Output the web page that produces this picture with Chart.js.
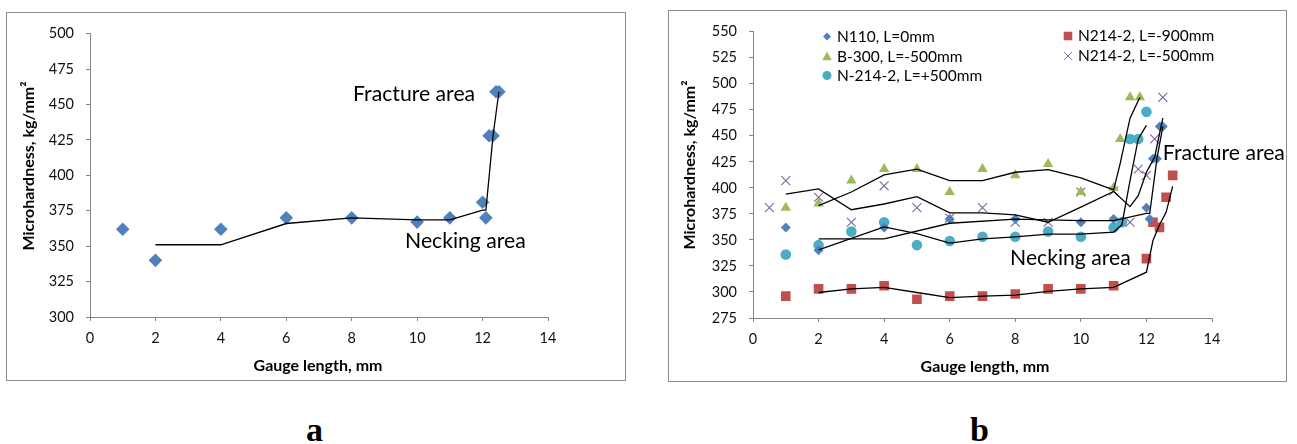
<!DOCTYPE html>
<html><head><meta charset="utf-8">
<script src="https://cdn.jsdelivr.net/npm/chart.js@4"></script>
<style>
html,body{margin:0;padding:0;background:#fff;width:1297px;height:444px;overflow:hidden;position:relative;}
.frame{position:absolute;border:1px solid #8c8c8c;box-sizing:border-box;}
.lab{position:absolute;font-family:"Liberation Serif","DejaVu Serif",serif;font-weight:bold;font-size:34px;line-height:1;color:#000;}
canvas{position:absolute;}
</style></head><body>
<div class="frame" style="left:6px;top:12px;width:620px;height:369px"></div>
<div class="frame" style="left:668px;top:10px;width:619px;height:372px"></div>
<canvas id="cA" width="618" height="367" style="left:7px;top:13px"></canvas>
<canvas id="cB" width="617" height="370" style="left:669px;top:11px"></canvas>
<div class="lab" style="left:306px;top:413px">a</div>
<div class="lab" style="left:970px;top:413px">b</div>
<script>
// ---------- DATA ----------
// Chart a : N110 only
const aX = [1, 2, 4, 6, 8, 10, 11, 12, 12.1, 12.2, 12.32, 12.41, 12.5];
const aY = [362, 340, 362, 370, 370, 367, 370, 381, 370, 428, 428, 459, 459];
const aTrendX = [2, 4, 6, 8, 10, 11, 12, 12.1, 12.2, 12.32, 12.41, 12.5];
const aTrendY = [351, 351, 366, 370, 368.5, 368.5, 375.5, 375.5, 399, 428, 443.5, 459];

// Chart b
const n110X = [1, 2, 4, 6, 8, 10, 11, 12, 12.1, 12.2, 12.32, 12.41, 12.5];
const n110Y = [362, 340, 362, 370, 370, 367, 370, 381, 370, 428, 428, 459, 459];
const n110TrendX = [2, 4, 6, 8, 10, 11, 12, 12.1, 12.2, 12.32, 12.41, 12.5];
const n110TrendY = [351, 351, 366, 370, 368.5, 368.5, 375.5, 375.5, 399, 428, 443.5, 459];

const n900X = [1, 2, 3, 4, 5, 6, 7, 8, 9, 10, 11, 12, 12.2, 12.4, 12.6, 12.8];
const n900Y = [296, 303, 303, 306, 293, 296, 296, 298, 303, 303, 306, 332, 367, 362, 391, 412];
const n900TrendX = [2, 3, 4, 5, 6, 7, 8, 9, 10, 11, 12, 12.2, 12.4, 12.6, 12.8];
const n900TrendY = [299.5, 303, 304.5, 299.5, 294.5, 296, 297, 300.5, 303, 304.5, 319, 349.5, 364.5, 376.5, 401.5];

const b300X = [1, 2, 3, 4, 5, 6, 7, 8, 9, 10, 11, 11.2, 11.5, 11.8];
const b300Y = [381, 385, 407, 418, 418, 396, 418, 412, 423, 396, 400, 447, 487, 487];
const b300TrendX = [2, 3, 4, 5, 6, 7, 8, 9, 10, 11, 11.2, 11.5, 11.8];
const b300TrendY = [383, 396, 412.5, 418, 407, 407, 415, 417.5, 409.5, 398, 423.5, 467, 487];

const n500X = [0.5, 1, 2, 3, 4, 5, 6, 7, 8, 9, 10, 11, 11.5, 11.75, 12, 12.25, 12.5];
const n500Y = [381, 407, 391, 367, 402, 381, 371, 381, 367, 367, 396, 397, 367, 418, 412, 447, 487];
const n500TrendX = [1, 2, 3, 4, 5, 6, 7, 8, 9, 10, 11, 11.5, 11.75, 12, 12.25, 12.5];
const n500TrendY = [394, 399, 379, 384.5, 391.5, 376, 376, 374, 367, 381.5, 396.5, 382, 392.5, 415, 429.5, 467];

const p500X = [1, 2, 3, 4, 5, 6, 7, 8, 9, 10, 11, 11.25, 11.5, 11.75, 12];
const p500Y = [336, 345, 358, 367, 345, 349, 353, 353, 358, 353, 362, 367, 447, 447, 473];
const p500TrendX = [2, 3, 4, 5, 6, 7, 8, 9, 10, 11, 11.25, 11.5, 11.75, 12];
const p500TrendY = [340.5, 351.5, 362.5, 356, 347, 351, 353, 355.5, 355.5, 357.5, 364.5, 407, 447, 460];

const seriesNames = ["N110, L=0mm", "N214-2, L=-900mm", "B-300, L=-500mm", "N214-2, L=-500mm", "N-214-2, L=+500mm"];
const xTitle = "Gauge length, mm";
const yTitle = "Microhardness, kg/mm\u00B2";
const fractureLabel = "Fracture area";
const neckingLabel = "Necking area";

// ---------- STYLE ----------
const FONT = 'Lato, "Open Sans", "Liberation Sans", sans-serif';
const AXIS = '#868686';
const C = {blue:'#4F81BD', red:'#C0504D', green:'#9BBB59', purple:'#8064A2', cyan:'#4BACC6'};

function pts(xs, ys){ return xs.map((x,i)=>({x:x, y:ys[i]})); }
function markers(xs, ys, st){
  return Object.assign({data:pts(xs,ys), showLine:false, pointBorderWidth:0, pointHoverRadius:0}, st);
}
function trend(xs, ys){
  return {data:pts(xs,ys), showLine:true, pointRadius:0, pointHoverRadius:0, borderColor:'#000', borderWidth:1.3, fill:false, tension:0};
}
function scales(ymin, ymax, yWidth, xHeight){
  const tickFont = {family:FONT, size:14.5};
  return {
    x:{type:'linear', min:0, max:14,
      ticks:{stepSize:2, padding:9, color:'#111', font:tickFont},
      grid:{display:true, drawOnChartArea:false, drawTicks:true, tickLength:4, tickColor:AXIS},
      border:{display:true, color:AXIS, width:1},
      afterFit(s){ s.height = xHeight; }},
    y:{type:'linear', min:ymin, max:ymax,
      ticks:{stepSize:25, padding:12, color:'#111', font:tickFont},
      grid:{display:true, drawOnChartArea:false, drawTicks:true, tickLength:4, tickColor:AXIS},
      border:{display:true, color:AXIS, width:1},
      afterFit(s){ s.width = yWidth; }}
  };
}

// text plugin: axis titles (canvas px) + annotations (data coords)
const textPlugin = {
  id:'texts',
  afterDraw(chart, args, opts){
    const ctx = chart.ctx;
    ctx.save();
    ctx.fillStyle = '#000';
    (opts.items||[]).forEach(it=>{
      let x = it.x, y = it.y;
      if (it.data){ x = chart.scales.x.getPixelForValue(it.data[0]); y = chart.scales.y.getPixelForValue(it.data[1]); }
      ctx.save();
      ctx.font = (it.bold?'bold ':'') + it.size + 'px ' + FONT;
      ctx.textAlign = it.align || 'center';
      ctx.textBaseline = 'middle';
      ctx.translate(x, y);
      if (it.rot) ctx.rotate(it.rot);
      ctx.fillText(it.text, 0, 0);
      ctx.restore();
    });
    ctx.restore();
  }
};

function drawMarker(ctx, type, x, y, r, color){
  ctx.save();
  ctx.fillStyle = color; ctx.strokeStyle = color;
  ctx.beginPath();
  if (type==='rectRot'){ ctx.moveTo(x-r,y); ctx.lineTo(x,y-r); ctx.lineTo(x+r,y); ctx.lineTo(x,y+r); ctx.closePath(); ctx.fill(); }
  else if (type==='rect'){ ctx.rect(x-r,y-r,2*r,2*r); ctx.fill(); }
  else if (type==='triangle'){ ctx.moveTo(x,y-r); ctx.lineTo(x+r*0.95,y+r*0.75); ctx.lineTo(x-r*0.95,y+r*0.75); ctx.closePath(); ctx.fill(); }
  else if (type==='circle'){ ctx.arc(x,y,r,0,Math.PI*2); ctx.fill(); }
  else if (type==='crossRot'){ ctx.lineWidth=1; ctx.moveTo(x-r,y-r); ctx.lineTo(x+r,y+r); ctx.moveTo(x+r,y-r); ctx.lineTo(x-r,y+r); ctx.stroke(); }
  ctx.restore();
}
const legendPlugin = {
  id:'customLegend',
  afterDraw(chart, args, opts){
    const ctx = chart.ctx;
    (opts.items||[]).forEach(it=>{
      drawMarker(ctx, it.type, it.mx, it.y, it.r, it.color);
      ctx.save();
      ctx.font = '15.5px ' + FONT; ctx.fillStyle='#000'; ctx.textAlign='left'; ctx.textBaseline='middle';
      ctx.fillText(it.text, it.tx, it.y);
      ctx.restore();
    });
  }
};

function baseOptions(scl, pad, texts, legendItems){
  return {
    responsive:false, animation:false, devicePixelRatio:1,
    layout:{padding:pad},
    scales:scl,
    plugins:{legend:{display:false}, tooltip:{enabled:false}, texts:{items:texts}, customLegend:{items:legendItems||[]}},
    events:[]
  };
}

// ---------- CHART A ----------
new Chart(document.getElementById('cA'), {
  type:'scatter',
  data:{datasets:[
    trend(aTrendX, aTrendY),
    markers(aX, aY, {pointStyle:'rectRot', pointRadius:6.8, pointBackgroundColor:C.blue, pointBorderColor:C.blue})
  ]},
  options: baseOptions(scales(300, 500, 83, 63), {left:0, right:77, top:16, bottom:0}, [
    {text:xTitle, x:311, y:353, size:16, bold:true},
    {text:yTitle, x:22, y:153, size:16, bold:true, rot:-Math.PI/2},
    {text:fractureLabel, data:[8.04, 457.6], size:21.2, align:'left'},
    {text:neckingLabel, data:[9.63, 353.5], size:21.2, align:'left'}
  ]),
  plugins:[textPlugin]
});

// ---------- CHART B ----------
new Chart(document.getElementById('cB'), {
  type:'scatter',
  data:{datasets:[
    trend(n110TrendX, n110TrendY),
    trend(n900TrendX, n900TrendY),
    trend(b300TrendX, b300TrendY),
    trend(n500TrendX, n500TrendY),
    trend(p500TrendX, p500TrendY),
    markers(n110X, n110Y, {label:seriesNames[0], pointStyle:'rectRot', pointRadius:5, pointBackgroundColor:C.blue, pointBorderColor:C.blue}),
    markers(n900X, n900Y, {label:seriesNames[1], pointStyle:'rect', pointRadius:6.8, pointBackgroundColor:C.red, pointBorderColor:C.red}),
    markers(b300X, b300Y, {label:seriesNames[2], pointStyle:'triangle', pointRadius:6, pointBackgroundColor:C.green, pointBorderColor:C.green}),
    markers(n500X, n500Y, {label:seriesNames[3], pointStyle:'crossRot', pointRadius:6.3, pointBorderWidth:1.1, pointBackgroundColor:C.purple, pointBorderColor:C.purple}),
    markers(p500X, p500Y, {label:seriesNames[4], pointStyle:'circle', pointRadius:5.3, pointBackgroundColor:C.cyan, pointBorderColor:C.cyan})
  ]},
  options: baseOptions(scales(275, 550, 84, 63), {left:0, right:74, top:18, bottom:0}, [
    {text:xTitle, x:316, y:356, size:16, bold:true},
    {text:yTitle, x:21, y:154, size:16, bold:true, rot:-Math.PI/2},
    {text:fractureLabel, data:[12.5, 433], size:21.2, align:'left'},
    {text:neckingLabel, data:[7.84, 332], size:21.2, align:'left'}
  ], [
    {type:'rectRot', mx:158, tx:168, y:25.5, r:4, color:C.blue, text:seriesNames[0]},
    {type:'triangle', mx:158, tx:168, y:45.5, r:5, color:C.green, text:seriesNames[2]},
    {type:'circle', mx:158, tx:168, y:64.5, r:4.5, color:C.cyan, text:seriesNames[4]},
    {type:'rect', mx:399, tx:409, y:25, r:4.3, color:C.red, text:seriesNames[1]},
    {type:'crossRot', mx:399, tx:409, y:45, r:3.8, color:C.purple, text:seriesNames[3]}
  ]),
  plugins:[textPlugin, legendPlugin]
});
</script>
</body></html>
